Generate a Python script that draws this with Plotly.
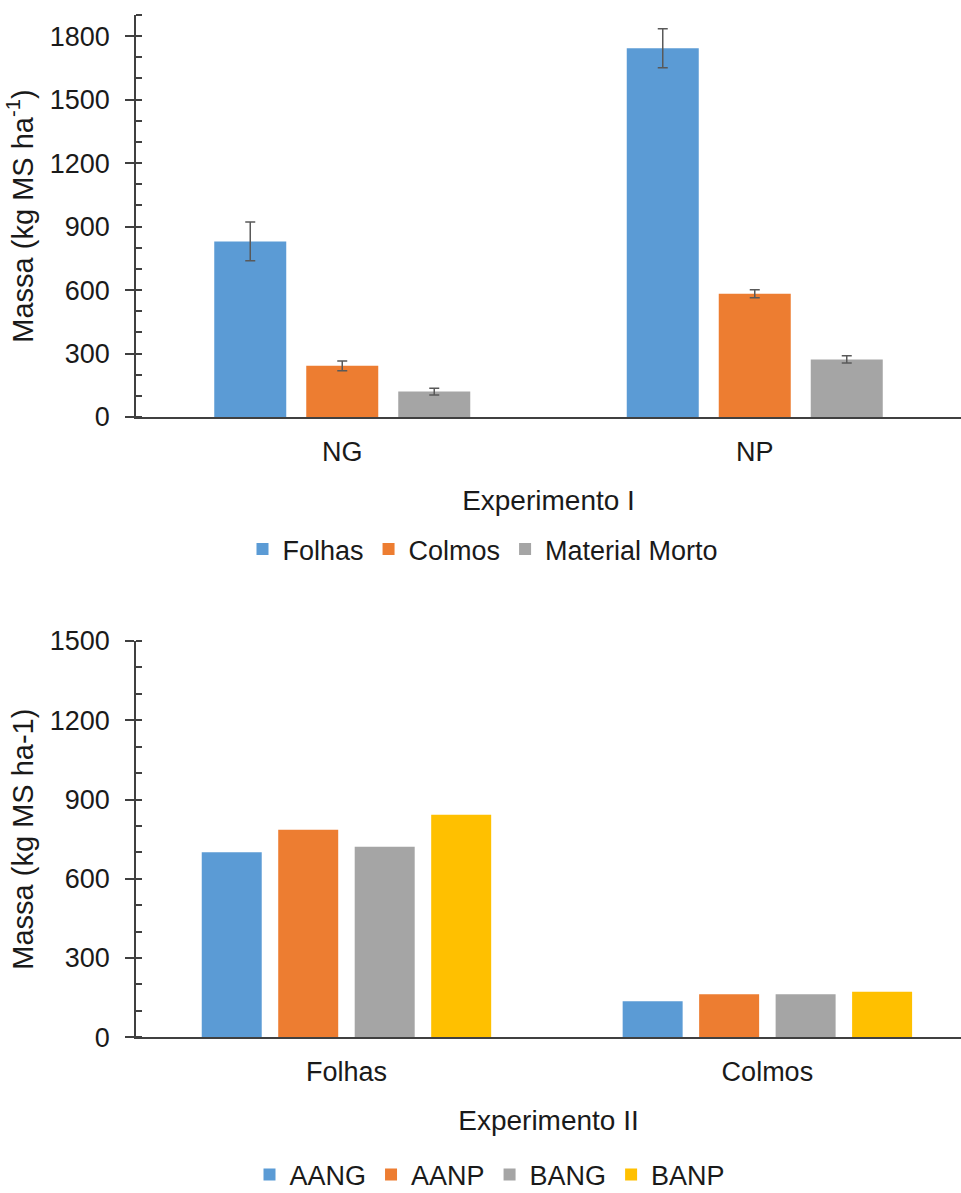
import plotly.graph_objects as go

# Experimento I: dry-matter mass per component (kg MS/ha), with error bars
exp1_groups = ["NG", "NP"]
exp1_series = ["Folhas", "Colmos", "Material Morto"]
exp1_folhas = [830, 1743]
exp1_colmos = [242, 583]
exp1_morto = [120, 272]
exp1_folhas_err = [92, 92]
exp1_colmos_err = [23, 19]
exp1_morto_err = [16, 17]

# Experimento II: mass per treatment for leaves and stems
exp2_groups = ["Folhas", "Colmos"]
exp2_series = ["AANG", "AANP", "BANG", "BANP"]
exp2_aang = [700, 136]
exp2_aanp = [786, 163]
exp2_bang = [721, 163]
exp2_banp = [842, 172]

colors = ["#5B9BD5", "#ED7D31", "#A5A5A5", "#FFC000"]
FONT = "Liberation Sans, Arial, sans-serif"
TXT = "#1a1a1a"
AX = "#404040"
ERR = "#595959"

W, H = 961, 1193
TICK_SIZE = 27
XTITLE_SIZE = 28
YTITLE_SIZE = 29
LEG_SIZE = 27


def py(px):
    """Convert a pixel row (from top) to paper y."""
    return 1 - px / H


def group_layout(n, bar_w, pitch):
    """Offsets (in category units) for n side-by-side bars of width bar_w."""
    centers = [(i - (n - 1) / 2) * pitch for i in range(n)]
    return [c - bar_w / 2 for c in centers]


fig = go.Figure()

# top panel: category pitch ~412.5 px, bars 72 px wide, 92 px apart
w1, p1 = 72 / 412.5, 92 / 412.5
offs1 = group_layout(3, w1, p1)
exp1_vals = [exp1_folhas, exp1_colmos, exp1_morto]
exp1_errs = [exp1_folhas_err, exp1_colmos_err, exp1_morto_err]
for name, vals, errs, col, off in zip(exp1_series, exp1_vals, exp1_errs, colors, offs1):
    fig.add_trace(go.Bar(
        x=exp1_groups, y=vals, name=name, width=w1, offset=off,
        marker=dict(color=col, line=dict(width=0)),
        error_y=dict(type="data", array=errs, visible=True, color=ERR, thickness=1.5, width=5),
        xaxis="x", yaxis="y", legend="legend",
    ))

# bottom panel: category pitch ~421 px, bars 60 px wide, 76.5 px apart
w2, p2 = 60 / 421, 76.5 / 421
offs2 = group_layout(4, w2, p2)
exp2_vals = [exp2_aang, exp2_aanp, exp2_bang, exp2_banp]
for name, vals, col, off in zip(exp2_series, exp2_vals, colors, offs2):
    fig.add_trace(go.Bar(
        x=exp2_groups, y=vals, name=name, width=w2, offset=off,
        marker=dict(color=col, line=dict(width=0)),
        xaxis="x2", yaxis="y2", legend="legend2",
    ))

x_dom = [136 / W, 1]
yaxis_common = dict(
    automargin=False,
    showline=True, linecolor=AX, linewidth=1.5,
    ticks="outside", ticklen=9, tickcolor=AX, tickwidth=1.5,
    ticklabelstandoff=10,
    showgrid=False, zeroline=False,
    tickfont=dict(size=TICK_SIZE, color=TXT, family=FONT),
    title_font=dict(size=YTITLE_SIZE, color=TXT, family=FONT),
)
xaxis_common = dict(
    automargin=False,
    showline=True, linecolor=AX, linewidth=1.5, ticks="", showgrid=False,
    ticklabelstandoff=10,
    tickfont=dict(size=TICK_SIZE, color=TXT, family=FONT),
    title_font=dict(size=XTITLE_SIZE, color=TXT, family=FONT),
)
minor_ticks = dict(tickmode="linear", tick0=0, dtick=100, ticks="inside", ticklen=6,
                   tickcolor=AX, tickwidth=1.5)

fig.update_layout(
    width=W, height=H,
    margin=dict(l=0, r=0, t=0, b=0, autoexpand=False),
    paper_bgcolor="white", plot_bgcolor="white",
    font=dict(family=FONT, color=TXT, size=TICK_SIZE),
    barmode="overlay",
    xaxis=dict(domain=x_dom, anchor="y", range=[-0.5, 1.5],
               title=dict(text="Experimento I", standoff=24), **xaxis_common),
    yaxis=dict(domain=[py(417), py(15)], anchor="x", range=[0, 1900],
               tickmode="array", tickvals=[0, 300, 600, 900, 1200, 1500, 1800],
               minor=minor_ticks,
               title=dict(text="Massa (kg MS ha<sup>-1</sup>)", standoff=8), **yaxis_common),
    xaxis2=dict(domain=x_dom, anchor="y2", range=[-0.5, 1.46],
                title=dict(text="Experimento II", standoff=24), **xaxis_common),
    yaxis2=dict(domain=[py(1037.3), py(641)], anchor="x2", range=[0, 1500],
                tickmode="array", tickvals=[0, 300, 600, 900, 1200, 1500],
                minor=minor_ticks,
                title=dict(text="Massa (kg MS ha-1)", standoff=8), **yaxis_common),
    legend=dict(orientation="h", x=483 / W, xanchor="center", y=py(549.5), yanchor="middle",
                font=dict(size=LEG_SIZE, color=TXT, family=FONT), itemwidth=30,
                bgcolor="rgba(0,0,0,0)"),
    legend2=dict(orientation="h", x=490 / W, xanchor="center", y=py(1175), yanchor="middle",
                 font=dict(size=LEG_SIZE, color=TXT, family=FONT), itemwidth=30,
                 bgcolor="rgba(0,0,0,0)"),
)

fig.write_html("out.html")
